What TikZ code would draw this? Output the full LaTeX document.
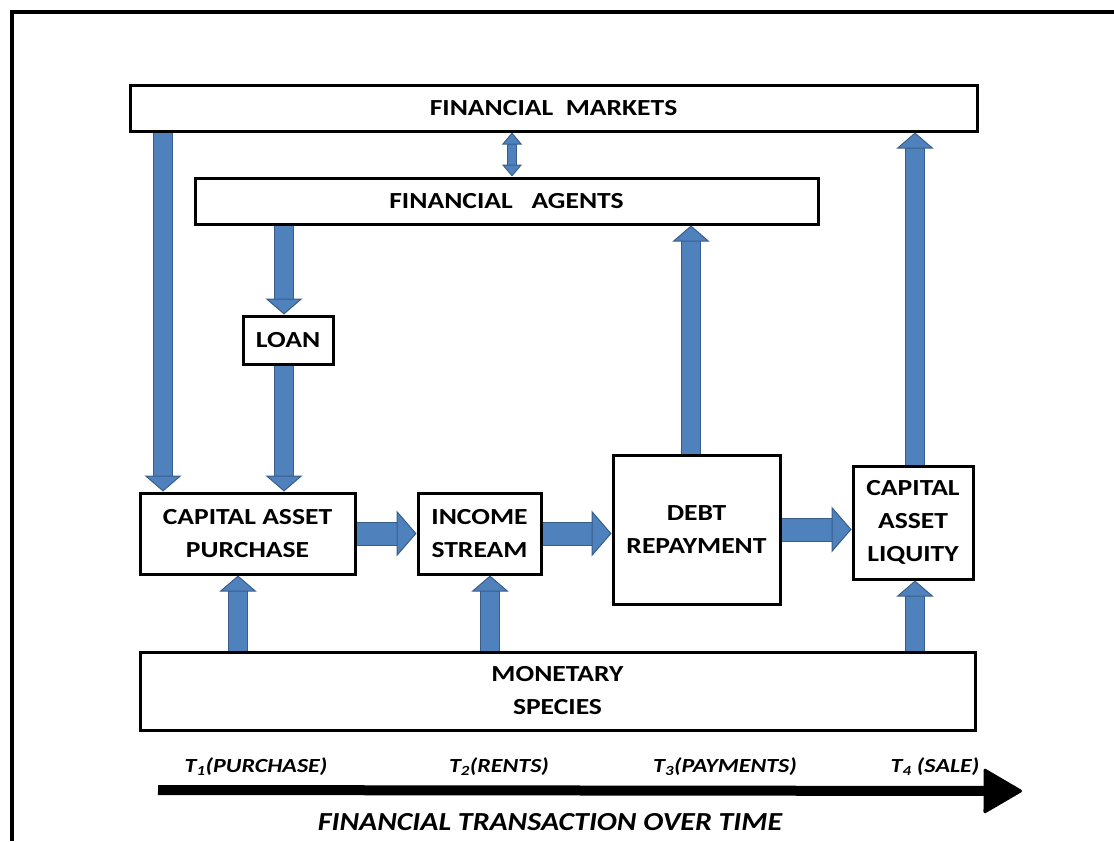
\documentclass[tikz,border=0pt]{standalone}
\usepackage{fontspec}
\setmainfont{Carlito}[FakeStretch=1.2]
\newfontfamily\timefont{Carlito}[FakeStretch=1.15]
\usetikzlibrary{
  arrows.meta,
  positioning
}
\definecolor{flowblue}{RGB}{79,129,189}
\definecolor{flowedge}{RGB}{56,93,138}
\newcommand{\boxfont}{\fontsize{23}{33}\selectfont\bfseries}
\tikzset{%
  box/.style={draw, line width=3pt, fill=white, align=center, inner sep=0pt, font=\boxfont},
  vflow/.style={% vertical blue arrows
    draw=flowblue, line width=18pt,
    preaction={draw=flowedge, line width=20pt, arrows=-, shorten >=15pt},
    -{Triangle[length=16pt, width=37pt, line width=1pt, color=flowedge, fill=flowblue]}
  },
  hflow/.style={% horizontal blue arrows
    draw=flowblue, line width=22pt,
    preaction={draw=flowedge, line width=24pt, arrows=-, shorten >=19pt},
    -{Triangle[length=20pt, width=46pt, line width=1pt, color=flowedge, fill=flowblue]}
  },
  sflow/.style={% small double arrow
    draw=flowblue, line width=8pt,
    preaction={draw=flowedge, line width=9.5pt, arrows=-, shorten >=11pt, shorten <=11pt},
    {Triangle[length=12pt, width=20pt, line width=1pt, color=flowedge, fill=flowblue]}-{Triangle[length=12pt, width=20pt, line width=1pt, color=flowedge, fill=flowblue]}
  },
  stamp/.style={font=\fontsize{20}{24}\selectfont\bfseries\itshape, inner sep=0pt}
}

\begin{document}
\begin{tikzpicture}[x=1pt, y=-1pt]
  \useasboundingbox (0,0) rectangle (1114,841);
  % frame
  \draw[line width=4pt] (12,841) -- (12,12) -- (1114,12);

  \node[box, minimum width=847pt, minimum height=46pt] (fm) at (553.5,108) {FINANCIAL\ \ MARKETS};
  \node[box, minimum width=623pt, minimum height=46pt] (fa) at (506.5,201) {FINANCIAL\ \ \ AGENTS};
  \node[box, minimum width=90pt, minimum height=48pt] (loan) at (288,340) {LOAN};
  \node[box, minimum width=215pt, minimum height=81pt] (cap) at (247.5,533.5) {CAPITAL ASSET\\PURCHASE};
  \node[box, minimum width=123pt, minimum height=81pt] (inc) at (479.5,533.5) {INCOME\\STREAM};
  \node[box, minimum width=167pt, minimum height=149pt] (debt) at (696.5,529.5) {DEBT\\REPAYMENT};
  \node[box, minimum width=120pt, minimum height=113pt] (liq) at (913,522.5) {CAPITAL\\ASSET\\LIQUITY};
  \node[box, minimum width=835pt, minimum height=78pt] (mon) at (557.5,691) {MONETARY\\SPECIES};

  % columns of the vertical arrows
  \coordinate (xm) at (163,0);
  \coordinate (xl) at (284,0);
  \coordinate (xs) at (512,0);
  \coordinate (xd) at (691,0);
  \coordinate (xq) at (915,0);
  \coordinate (xc) at (238,0);
  \coordinate (xi) at (490,0);

  \draw[vflow] (xm |- fm.south) -- (xm |- cap.north);
  \draw[sflow] (xs |- fm.south) -- (xs |- fa.north);
  \draw[vflow] (xl |- fa.south) -- (xl |- loan.north);
  \draw[vflow] (xl |- loan.south) -- (xl |- cap.north);
  \draw[vflow] (xd |- debt.north) -- (xd |- fa.south);
  \draw[vflow] (xq |- liq.north) -- (xq |- fm.south);
  \draw[vflow] (xc |- mon.north) -- (xc |- cap.south);
  \draw[vflow] (xi |- mon.north) -- (xi |- inc.south);
  \draw[vflow] (xq |- mon.north) -- (xq |- liq.south);

  \draw[hflow] (cap.east) -- (cap.east -| inc.west);
  \draw[hflow] (inc.east) -- (inc.east -| debt.west);
  \draw[hflow] (debt.east) -- (debt.east -| liq.west);

  % time line
  \coordinate (t0) at (158,790);
  \coordinate (t1) at (1022,791);
  \draw[line width=10pt, -{Triangle[length=40pt, width=46pt, round, line width=3pt]}] (t0) -- (t1);
  \node[stamp] (s1) at (256,767) {T\textsubscript{1}(PURCHASE)};
  \node[stamp] (s2) at (499,767) {T\textsubscript{2}(RENTS)};
  \node[stamp] (s3) at (725,767) {T\textsubscript{3}(PAYMENTS)};
  \node[stamp] (s4) at (935,767) {T\textsubscript{4} (SALE)};
  \node[font=\timefont\fontsize{26}{30}\selectfont\bfseries\itshape, inner sep=0pt] (cap2) at (550,822) {FINANCIAL TRANSACTION OVER TIME};
\end{tikzpicture}
\end{document}
